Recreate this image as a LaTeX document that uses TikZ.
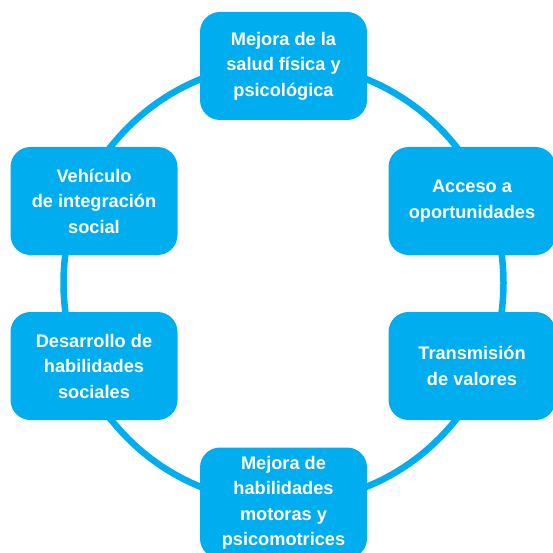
\documentclass[tikz,border=0pt]{standalone}
\usepackage{fontspec}
\setmainfont{Liberation Sans}
\definecolor{cyanbox}{HTML}{00AEEF}
\begin{document}
\begin{tikzpicture}[x=1pt,y=-1pt,
  itembox/.style={fill=cyanbox, draw=none, rounded corners=20pt, text=white,
    minimum width=167pt, minimum height=108pt, align=center, inner sep=0pt,
    font=\fontsize{18.2}{25.5}\selectfont\bfseries},
  ring/.style={draw=cyanbox, line width=6.5pt}]
\useasboundingbox (0,0) rectangle (552,553);
\coordinate (c) at (283.5,283);
\draw[ring] (c) circle[radius=220pt];
\node[itembox] (top) at (283.5,66) {Mejora de la\\salud física y\\psicológica};
\node[itembox] (lt) at (94,201) {Vehículo\\de integración\\social};
\node[itembox] (rt) at (472,201) {Acceso a\\oportunidades};
\node[itembox] (lb) at (94,366) {Desarrollo de\\habilidades\\sociales};
\node[itembox] (rb) at (472,366) {Transmisión\\de valores};
\node[itembox, minimum height=111pt] (bot) at (283.5,503) {Mejora de\\habilidades\\motoras y\\psicomotrices};
\end{tikzpicture}
\end{document}
